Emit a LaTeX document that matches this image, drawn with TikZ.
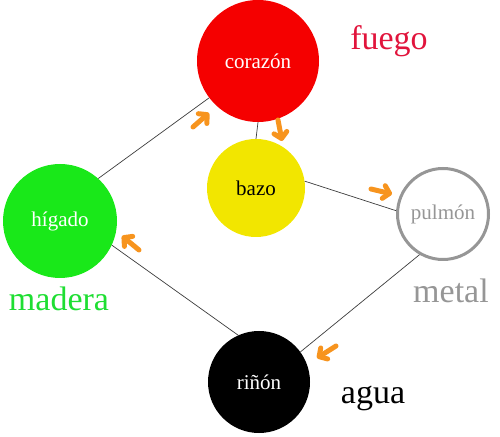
\documentclass[tikz,border=0pt]{standalone}
\usepackage{fontspec}
\setmainfont{Liberation Serif}
\usetikzlibrary{arrows.meta}
\definecolor{myred}{RGB}{245,0,0}
\definecolor{mygreen}{RGB}{25,232,25}
\definecolor{myyellow}{RGB}{242,230,0}
\definecolor{mygray}{RGB}{150,150,150}
\definecolor{myorange}{RGB}{247,148,30}
\definecolor{firered}{RGB}{225,20,60}
\definecolor{woodgreen}{RGB}{30,222,50}
\definecolor{linegray}{RGB}{60,60,60}
\tikzset{
  organ/.style={circle, inner sep=0pt, font=\fontsize{21}{24}\selectfont},
  element/.style={anchor=base, font=\fontsize{34}{38}\selectfont},
  link/.style={draw=linegray, line width=0.7pt},
  flow/.style={draw=myorange, line width=5pt, line cap=round,
    -{Straight Barb[length=6pt, width=13pt, line cap=round, line join=round]}},
}
\begin{document}
\begin{tikzpicture}[x=1pt, y=1pt]
    \useasboundingbox (0,0) rectangle (500,436);
        % organs
    \node[organ, fill=myred, text=white, minimum size=122pt] (cor) at (258,375) {corazón};
    \node[organ, fill=myyellow, text=black, minimum size=98pt] (bazo) at (256,248) {bazo};
    \node[organ, draw=mygray, line width=3pt, fill=white, text=mygray, minimum size=91pt] (pul) at (443,222) {pulmón};
    \node[organ, fill=mygreen, text=white, minimum size=114pt] (hig) at (60,215) {hígado};
    \node[organ, fill=black, text=white, minimum size=102pt] (rin) at (259,54) {riñón};
    
    % elements
    \node[element, text=firered] (fuego) at (389,386) {fuego};
    \node[element, text=woodgreen] (madera) at (59,125) {madera};
    \node[element, text=mygray] (metal) at (451,133) {metal};
    \node[element, text=black] (agua) at (373,32) {agua};
    
    % cycle
    \draw[link] (hig.48) -- (cor.217);
    \draw[link] (cor.south) -- (bazo.north);
    \draw[link] (bazo.8) -- (pul.176);
    \draw[link] (pul.240) -- (rin.36);
    \draw[link] (rin.114) -- (hig.335);
    
    % arrows
    \draw[flow] (193,309) -- (209,323);
    \draw[flow] (278,316) -- (282,295);
    \draw[flow] (371,247) -- (392,242);
    \draw[flow] (336,90) -- (317,78);
    \draw[flow] (139,186) -- (122,200);
\end{tikzpicture}
\end{document}
